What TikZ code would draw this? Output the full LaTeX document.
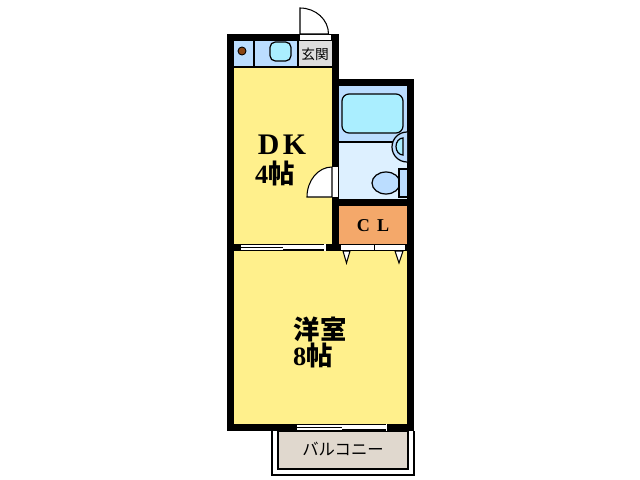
\documentclass[tikz,border=0pt]{standalone}
\usepackage{fontspec}
\setmainfont{Liberation Serif}
\newfontfamily\cjkfont{Noto Sans CJK JP}
\definecolor{roomyellow}{HTML}{FFF08C}
\definecolor{wetblue}{HTML}{BBDDFF}
\definecolor{paleblue}{HTML}{DDF0FF}
\definecolor{fixturecyan}{HTML}{AAEEFF}
\definecolor{entrygray}{HTML}{DDDDDD}
\definecolor{closetorange}{HTML}{F4A86A}
\definecolor{balconytan}{HTML}{E0D8CE}
\definecolor{stovebrown}{HTML}{8B4513}
\tikzset{
  wall/.style={fill=black},
  fixture/.style={draw=black,line width=0.7pt,fill=fixturecyan},
  opening/.style={fill=white},
  doorleaf/.style={draw=black,line width=0.6pt,fill=white},
  cjklabel/.style={inner sep=0pt,font=\cjkfont\bfseries\fontsize{#1}{#1}\selectfont},
  cjksmall/.style={inner sep=0pt,font=\cjkfont\fontsize{#1}{#1}\selectfont}
}
\begin{document}
\begin{tikzpicture}[x=0.02cm,y=-0.02cm]
\useasboundingbox (0,0) rectangle (640,480);
% balcony
\draw[line width=0.7pt] (272,431) -- (272,475) -- (414,475) -- (414,431);
\draw[line width=0.7pt,fill=balconytan] (278,431) rectangle (408,469);
% walls
\fill[wall] (227,34) rectangle (339,251);
\fill[wall] (339,79) rectangle (414,251);
\fill[wall] (227,251) rectangle (414,431);
% rooms
\fill[roomyellow] (234,67) rectangle (332,244);
\fill[roomyellow] (234,251) rectangle (407,424);
\fill[wetblue] (234,41) rectangle (298,67);
\fill[entrygray] (298,41) rectangle (332,67);
\draw[line width=0.6pt] (254,41) -- (254,67);
\draw[line width=0.6pt] (298,41) -- (298,67);
\draw[line width=0.6pt] (234,67) -- (332,67);
\fill[wetblue] (339,86) rectangle (407,142);
\fill[paleblue] (339,142) rectangle (407,199);
\draw[line width=0.6pt] (339,142) -- (407,142);
\fill[closetorange] (339,206) rectangle (407,244);
% kitchen
\fill[stovebrown,draw=black,line width=0.5pt] (242,51) circle (4);
\draw[fixture,rounded corners=3pt] (270,42) rectangle (291,61);
% bath
\draw[fixture,rounded corners=4pt] (342,94) rectangle (403,133);
\draw[line width=0.7pt,fill=wetblue] (407,132) arc (-90:-270:15 and 15);
\draw[fixture] (403,138) arc (-90:-270:7 and 8.5) -- cycle;
\draw[line width=0.7pt,fill=wetblue] (386,183) ellipse (14 and 11);
\draw[line width=0.7pt,fill=wetblue] (407,169) -- (399,169) -- (399,197) -- (407,197);
% entrance door
\fill[opening] (300,35) rectangle (331,40);
\draw[doorleaf] (300,34) -- (300,8) arc (-90:0:28.5 and 26) -- cycle;
% kitchen door
\fill[opening] (332,167) rectangle (338,197);
\draw[doorleaf] (332,197) -- (332,167) arc (-90:-180:25 and 30) -- cycle;
% sliding door to the room
\fill[opening] (241,245) rectangle (283,250);
\draw[line width=0.5pt] (241,247.5) -- (287,247.5);
\fill[opening] (283,245) rectangle (325,249);
\fill[opening] (324,244) rectangle (325.5,251);
% closet doors
\fill[opening] (341,245) rectangle (405,250);
\draw[line width=0.5pt] (374,245) -- (374,250);
\draw[doorleaf] (343,251) -- (350,251) -- (346.5,263) -- cycle;
\draw[doorleaf] (395,251) -- (403,251) -- (399,263) -- cycle;
% balcony window
\fill[opening] (297,425) rectangle (342,430);
\draw[line width=0.5pt] (297,427.5) -- (346,427.5);
\fill[opening] (342,425) rectangle (387,429);
\fill[opening] (386,424) rectangle (387,431);
% labels
\node[cjksmall=7.8] (genkan) at (315,54) {玄関};
\node[inner sep=0pt,font=\bfseries\fontsize{17}{17}\selectfont] (dk) at (282,145) {D\hspace{2pt}K};
\node[cjklabel=15] (dkarea) at (275,173) {\rmfamily\bfseries 4\cjkfont 帖};
\node[inner sep=0pt,font=\bfseries\fontsize{10.3}{10.3}\selectfont] (cl) at (373,226) {C\hspace{4pt}L};
\node[cjklabel=15] (youshitsu) at (320,329) {洋室};
\node[cjklabel=15] (roomarea) at (313,355) {\rmfamily\bfseries 8\cjkfont 帖};
\node[cjksmall=9.3] (balcony) at (343,449) {バルコニー};
\end{tikzpicture}
\end{document}
